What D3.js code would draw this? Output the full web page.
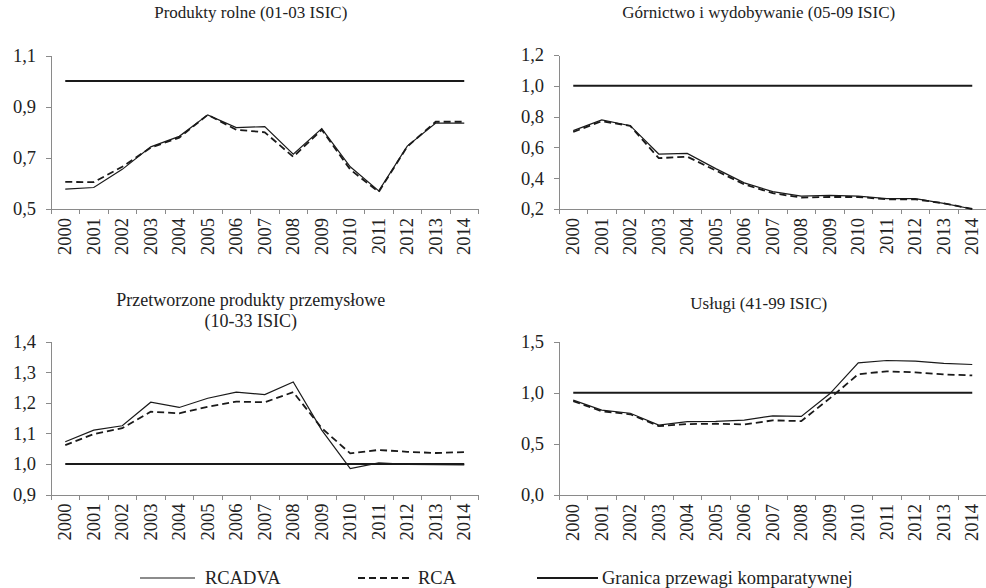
<!DOCTYPE html>
<meta charset="utf-8">
<script src="https://d3js.org/d3.v7.min.js"></script>
<style>
body { margin: 0; background: #fff; }
.axis path, .axis line { stroke: #8a8a8a; shape-rendering: crispEdges; }
</style>
<div id="plot"></div>
<script>
// data
var years = ["2000","2001","2002","2003","2004","2005","2006","2007","2008","2009","2010","2011","2012","2013","2014"];

var rolneRcadva = [0.578,0.584,0.655,0.743,0.784,0.868,0.818,0.822,0.714,0.814,0.665,0.571,0.746,0.836,0.836];
var rolneRca    = [0.606,0.605,0.665,0.740,0.779,0.868,0.810,0.800,0.704,0.810,0.654,0.567,0.744,0.841,0.841];

var gornRcadva = [0.709,0.778,0.741,0.557,0.561,0.462,0.370,0.313,0.284,0.289,0.284,0.267,0.267,0.237,0.200];
var gornRca    = [0.700,0.770,0.740,0.530,0.540,0.450,0.360,0.303,0.274,0.278,0.278,0.263,0.263,0.237,0.200];

var przetRcadva = [1.073,1.111,1.125,1.202,1.185,1.215,1.235,1.227,1.268,1.111,0.985,1.004,0.999,0.998,0.997];
var przetRca    = [1.062,1.098,1.117,1.171,1.166,1.187,1.204,1.202,1.235,1.117,1.035,1.046,1.040,1.036,1.039];

var uslugiRcadva = [0.928,0.830,0.800,0.684,0.717,0.720,0.733,0.775,0.769,0.990,1.293,1.316,1.310,1.287,1.277];
var uslugiRca    = [0.918,0.820,0.790,0.674,0.694,0.697,0.690,0.730,0.723,0.945,1.182,1.210,1.200,1.180,1.170];

var granica = 1.0;

var panels = [
  {title: ["Produkty rolne (01-03 ISIC)"], rcadva: rolneRcadva, rca: rolneRca,
   ticks: [0.5, 0.7, 0.9, 1.1], left: 51, top: 55.5, bottom: 209},
  {title: ["Górnictwo i wydobywanie (05-09 ISIC)"], rcadva: gornRcadva, rca: gornRca,
   ticks: [0.2, 0.4, 0.6, 0.8, 1.0, 1.2], left: 559, top: 55, bottom: 209},
  {title: ["Przetworzone produkty przemysłowe", "(10-33 ISIC)"], rcadva: przetRcadva, rca: przetRca,
   ticks: [0.9, 1.0, 1.1, 1.2, 1.3, 1.4], left: 51, top: 341.7, bottom: 494.6},
  {title: ["Usługi (41-99 ISIC)"], rcadva: uslugiRcadva, rca: uslugiRca,
   ticks: [0.0, 0.5, 1.0, 1.5], left: 559, top: 341.7, bottom: 495}
];
var titleY = [18, 18, 306, 309];
var titleSize = ["17px", "17px", "18px", "17px"];

var plotWidth = 427.5;
var serif = "'Liberation Serif', 'Times New Roman', Times, serif";
var fontSize = "18.5px";

var svg = d3.select("#plot").append("svg")
  .attr("width", 986)
  .attr("height", 588)
  .style("font-family", serif);

var fmt = function(d) { return d3.format(".1f")(d).replace(".", ","); };

panels.forEach(function(p, k) {
  var x = d3.scaleBand().domain(years).range([p.left, p.left + plotWidth]);
  var y = d3.scaleLinear()
    .domain([p.ticks[0], p.ticks[p.ticks.length - 1]])
    .range([p.bottom, p.top]);
  var cx = function(d, i) { return x(years[i]) + x.bandwidth() / 2; };

  var g = svg.append("g");

  // title
  var t = g.append("text")
    .attr("y", titleY[k])
    .attr("text-anchor", "middle")
    .style("font-family", serif)
    .style("font-size", titleSize[k])
    .attr("fill", "#222");
  p.title.forEach(function(line, i) {
    t.append("tspan").attr("x", p.left + plotWidth / 2 - 14)
      .attr("dy", i == 0 ? 0 : 21).text(line);
  });

  // y axis
  g.append("g")
    .attr("class", "axis")
    .attr("transform", "translate(" + p.left + ",0)")
    .call(d3.axisLeft(y).tickValues(p.ticks).tickFormat(fmt).tickSize(5).tickSizeOuter(0).tickPadding(10))
    .selectAll("text")
      .style("font-family", serif)
      .style("font-size", fontSize)
      .attr("fill", "#222");

  // x axis: labels at band centres, ticks at band edges (Excel style)
  var xg = g.append("g")
    .attr("class", "axis")
    .attr("transform", "translate(0," + p.bottom + ")")
    .call(d3.axisBottom(x).tickSize(0).tickSizeOuter(0));
  xg.selectAll(".tick text")
    .attr("transform", "rotate(-90)")
    .attr("x", -9)
    .attr("y", 0)
    .attr("dy", "0.33em")
    .attr("fill", "#222")
    .style("text-anchor", "end")
    .style("font-family", serif)
    .style("font-size", fontSize);
  xg.selectAll(".edge")
    .data(years.map(function(d) { return x(d); }).concat([p.left + plotWidth]))
    .enter().append("line")
      .attr("class", "edge")
      .attr("x1", function(d) { return d; })
      .attr("x2", function(d) { return d; })
      .attr("y1", 0)
      .attr("y2", 5);

  var line = d3.line().x(cx).y(function(d) { return y(d); });

  // comparative advantage border
  g.append("path")
    .datum(years.map(function() { return granica; }))
    .attr("d", line)
    .attr("fill", "none")
    .attr("stroke", "#1a1a1a")
    .attr("stroke-width", 2);

  g.append("path")
    .datum(p.rca)
    .attr("d", line)
    .attr("fill", "none")
    .attr("stroke", "#1a1a1a")
    .attr("stroke-width", 1.8)
    .attr("stroke-dasharray", "7,4");

  g.append("path")
    .datum(p.rcadva)
    .attr("d", line)
    .attr("fill", "none")
    .attr("stroke", "#1a1a1a")
    .attr("stroke-width", 1.2);
});

// legend
var legendItems = [
  {name: "RCADVA", x1: 140, x2: 195, tx: 205, w: 1.2, dash: null},
  {name: "RCA", x1: 358, x2: 413, tx: 418, w: 1.8, dash: "7,4"},
  {name: "Granica przewagi komparatywnej", x1: 537, x2: 598, tx: 602, w: 1.8, dash: null}
];
var legend = svg.append("g");
legendItems.forEach(function(d) {
  legend.append("line")
    .attr("x1", d.x1).attr("x2", d.x2)
    .attr("y1", 578).attr("y2", 578)
    .attr("stroke", "#1a1a1a")
    .attr("stroke-width", d.w)
    .attr("stroke-dasharray", d.dash);
  legend.append("text")
    .attr("x", d.tx)
    .attr("y", 584)
    .attr("fill", "#222")
    .style("font-family", serif)
    .style("font-size", fontSize)
    .text(d.name);
});
</script>
